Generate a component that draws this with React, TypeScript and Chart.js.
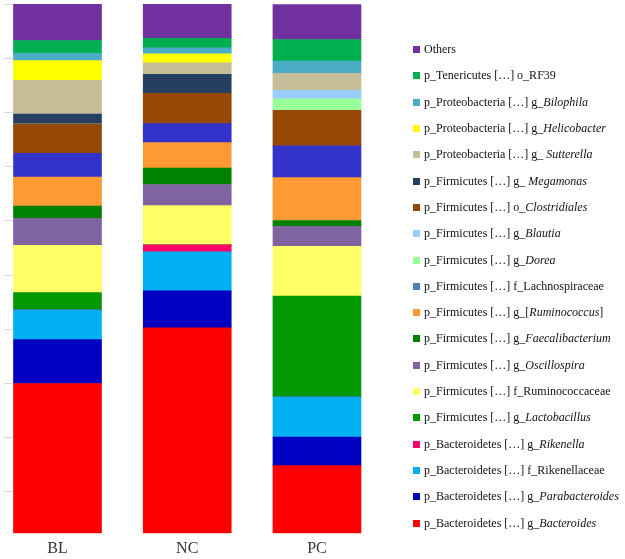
import React, { useEffect, useRef } from "react";
import { Chart, registerables } from "chart.js";

Chart.register(...registerables);

// Groups (x categories)
const groups = ["BL", "NC", "PC"];

// Series in legend order (top to bottom)
const seriesPrefix = [
  "Others",
  "p_Tenericutes […] o_RF39",
  "p_Proteobacteria […] g_",
  "p_Proteobacteria […] g_",
  "p_Proteobacteria […] g_ ",
  "p_Firmicutes […] g_ ",
  "p_Firmicutes […] o_",
  "p_Firmicutes […] g_",
  "p_Firmicutes […] g_",
  "p_Firmicutes […] f_Lachnospiraceae",
  "p_Firmicutes […] g_[",
  "p_Firmicutes […] g_",
  "p_Firmicutes […] g_",
  "p_Firmicutes […] f_Ruminococcaceae",
  "p_Firmicutes […] g_",
  "p_Bacteroidetes […] g_",
  "p_Bacteroidetes […] f_Rikenellaceae",
  "p_Bacteroidetes […] g_",
  "p_Bacteroidetes […] g_",
];
const seriesItalic = [
  "", "", "Bilophila", "Helicobacter", "Sutterella", "Megamonas", "Clostridiales",
  "Blautia", "Dorea", "", "Ruminococcus", "Faecalibacterium", "Oscillospira", "",
  "Lactobacillus", "Rikenella", "", "Parabacteroides", "Bacteroides",
];
const seriesSuffix = [
  "", "", "", "", "", "", "", "", "", "", "]", "", "", "", "", "", "", "", "",
];
const seriesColors = [
  "#7030A0", "#00B050", "#4BACC6", "#FFFF00", "#C4BD97", "#243F60", "#974706",
  "#99CCFF", "#99FF99", "#3333CC", "#FF9933", "#008000", "#8064A2", "#FFFF66",
  "#009900", "#FF0066", "#00B0F0", "#0000C0", "#FF0000",
];
// Legend marker colours (the original legend shows Lachnospiraceae in a steel blue)
const legendMarkerColors = seriesColors.map((c, i) => (i === 9 ? "#4F81BD" : c));

// Relative abundance (%) per group, in legend order
const valuesBL = [6.9, 2.4, 1.4, 3.7, 6.4, 1.9, 5.5, 0, 0, 4.5, 5.5, 2.3, 5.1, 8.9, 3.3, 0, 5.6, 8.3, 28.3];
const valuesNC = [6.5, 1.8, 1.1, 1.7, 2.2, 3.6, 5.7, 0, 0, 3.6, 4.8, 3.1, 4.0, 7.4, 0, 1.3, 7.4, 7.0, 38.8];
const valuesPC = [6.6, 4.1, 2.3, 0, 3.2, 0, 6.7, 1.6, 2.2, 6.0, 8.1, 1.1, 3.8, 9.4, 19.0, 0, 7.6, 5.4, 12.8];

// Stacking order, bottom to top (indices into the legend-ordered arrays)
const stackOrder = [18, 17, 16, 15, 14, 13, 12, 11, 10, 9, 6, 8, 7, 5, 4, 3, 2, 1, 0];

// Y-axis tick marks (unlabelled)
const yTickValues = [100, 89.76, 79.52, 69.28, 59.04, 48.8, 38.56, 28.32, 18.08, 7.84];

const groupValues = [valuesBL, valuesNC, valuesPC];

export default function App() {
  const canvasRef = useRef<HTMLCanvasElement | null>(null);

  useEffect(() => {
    if (!canvasRef.current) return;
    const datasets = stackOrder.map((si) => ({
      label: seriesPrefix[si] + seriesItalic[si] + seriesSuffix[si],
      data: groups.map((_, gi) => ({ x: gi, y: groupValues[gi][si] })),
      backgroundColor: seriesColors[si],
      borderWidth: 0,
      barThickness: 88,
    }));
    const chart = new Chart(canvasRef.current, {
      type: "bar",
      data: { datasets },
      options: {
        animation: false,
        responsive: false,
        devicePixelRatio: 1,
        layout: { padding: { left: 4, top: 4, right: 235, bottom: 0 } },
        plugins: { legend: { display: false }, tooltip: { enabled: false } },
        scales: {
          x: {
            type: "linear",
            offset: false,
            stacked: true,
            min: -0.343,
            max: 2.563,
            afterBuildTicks: (scale: any) => {
              scale.ticks = groups.map((_, i) => ({ value: i }));
            },
            afterFit: (scale: any) => {
              scale.height = 25.7;
            },
            ticks: {
              autoSkip: false,
              maxRotation: 0,
              padding: 6,
              color: "#333333",
              font: { family: "'Liberation Serif', serif", size: 16 },
              callback: (v: any) => groups[Math.round(Number(v))] ?? "",
            },
            grid: { display: false, drawTicks: false },
            border: { display: false },
          },
          y: {
            stacked: true,
            min: 0,
            max: 100,
            afterBuildTicks: (scale: any) => {
              scale.ticks = yTickValues.map((v) => ({ value: v }));
            },
            ticks: { display: false },
            grid: {
              display: true,
              drawOnChartArea: false,
              drawTicks: true,
              tickLength: 9,
              color: "#D9D9D9",
              lineWidth: 1,
            },
            border: { display: false },
          },
        },
      },
    });
    return () => chart.destroy();
  }, []);

  return (
    <div style={{ position: "fixed", left: 0, top: 0, width: 625, height: 559, background: "#fff" }}>
      <canvas ref={canvasRef} width={625} height={559} style={{ display: "block" }} />
      {seriesPrefix.map((p, i) => (
        <div
          key={i}
          style={{
            position: "absolute",
            left: 413,
            top: 36.1 + i * 26.3,
            height: 26.3,
            lineHeight: "26.3px",
            whiteSpace: "nowrap",
            fontFamily: "'Liberation Serif', serif",
            fontSize: 12,
            color: "#111",
          }}
        >
          <span
            style={{
              position: "absolute",
              left: 0,
              top: 10,
              width: 7,
              height: 7,
              background: legendMarkerColors[i],
            }}
          />
          <span style={{ position: "absolute", left: 11, top: 0 }}>
            {p}
            {seriesItalic[i] ? <i>{seriesItalic[i]}</i> : null}
            {seriesSuffix[i]}
          </span>
        </div>
      ))}
    </div>
  );
}
